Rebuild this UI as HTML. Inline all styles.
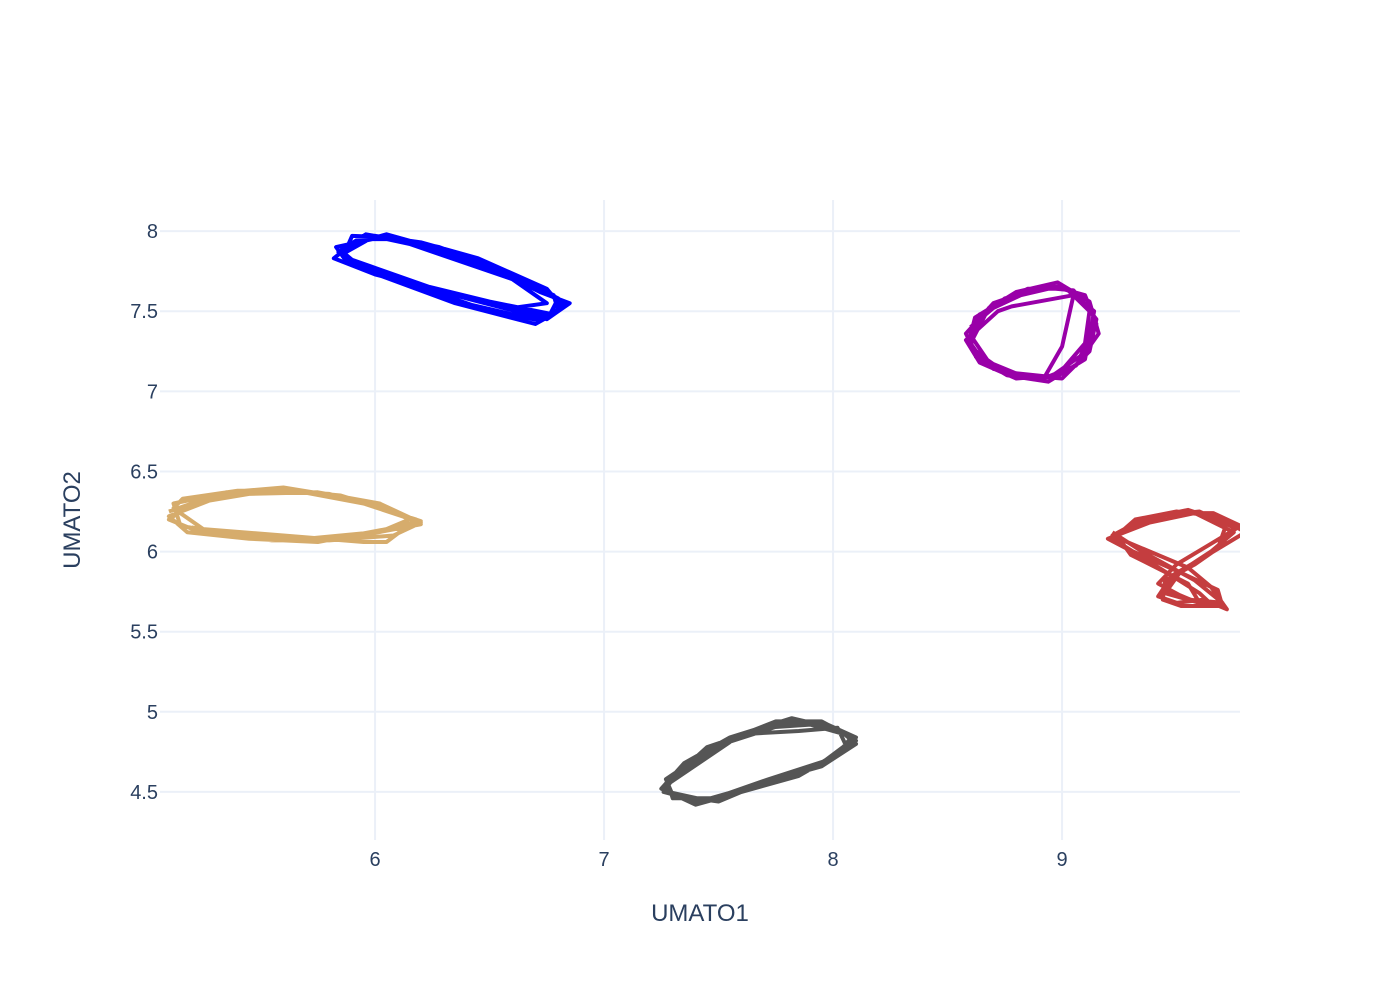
<!DOCTYPE html>
<html><head><meta charset="utf-8"><style>
body{margin:0;background:#fff;font-family:"Liberation Sans",sans-serif}
svg text{font-family:"Liberation Sans",sans-serif;fill:#2a3f5f}
</style></head><body>
<svg id="chart" width="1400" height="1000" xmlns="http://www.w3.org/2000/svg">
<defs><clipPath id="pc"><rect x="160" y="200" width="1080" height="640"/></clipPath></defs>
<g id="grid"></g>
<g id="series" clip-path="url(#pc)"></g>
<g id="ticks"></g>
<text x="700" y="921" font-size="24" text-anchor="middle">UMATO1</text>
<text transform="translate(80,520) rotate(-90)" font-size="24" text-anchor="middle">UMATO2</text>
</svg>
<script>
const xTicks=[6,7,8,9];
const yTicks=[4.5,5,5.5,6,6.5,7,7.5,8];
const yTickLabels=["4.5","5","5.5","6","6.5","7","7.5","8"];
const blueX=[5.85,6.0,6.2,6.45,6.75,6.82,6.75,6.4,6.0,5.82,5.9,6.05,6.25,6.5,6.78,6.8,6.7,6.35,5.95,5.85,5.95,6.1,6.3,6.55,6.72,6.85,6.78,6.5,6.1,5.88,5.83,6.02,6.15,6.6,6.75,6.6,6.3,5.98,5.86,5.9,6.08,6.28,6.55,6.8,6.76,6.45,6.15,5.92,5.84,5.96,6.12,6.4,6.7,6.83,6.72,6.42,6.05,5.87];
const blueY=[7.85,7.97,7.93,7.83,7.64,7.52,7.45,7.58,7.73,7.83,7.92,7.98,7.9,7.78,7.6,7.5,7.42,7.55,7.76,7.88,7.95,7.95,7.88,7.74,7.62,7.55,7.48,7.56,7.7,7.8,7.9,7.96,7.92,7.7,7.55,7.52,7.62,7.78,7.84,7.97,7.96,7.9,7.76,7.58,7.47,7.57,7.68,7.8,7.87,7.98,7.94,7.82,7.66,7.54,7.44,7.54,7.72,7.81];
const purpleX=[8.6,8.75,8.95,9.1,9.15,9.08,8.95,8.75,8.62,8.58,8.7,8.9,9.05,9.15,9.12,9.0,8.82,8.65,8.6,8.68,8.85,9.02,9.12,9.1,8.98,8.8,8.64,8.58,8.72,8.78,9.05,9.0,8.92,8.7,8.6,8.62,8.8,8.98,9.12,9.16,9.06,8.9,8.72,8.6,8.64,8.82,9.0,9.14,9.1,8.94,8.76,8.62];
const purpleY=[7.4,7.58,7.66,7.6,7.42,7.22,7.09,7.12,7.25,7.36,7.55,7.65,7.63,7.45,7.25,7.08,7.1,7.2,7.3,7.52,7.64,7.64,7.5,7.3,7.1,7.08,7.18,7.32,7.5,7.53,7.6,7.28,7.08,7.14,7.35,7.46,7.62,7.68,7.56,7.36,7.16,7.07,7.14,7.28,7.48,7.6,7.66,7.5,7.2,7.06,7.1,7.22];
const tanX=[5.1,5.3,5.55,5.85,6.05,6.2,6.0,5.7,5.4,5.15,5.12,5.35,5.6,5.9,6.1,6.15,6.05,5.75,5.45,5.18,5.1,5.28,5.5,5.8,6.0,6.18,6.05,5.95,5.6,5.25,5.12,5.16,5.4,5.65,5.95,6.12,6.2,5.9,5.55,5.22,5.1,5.2,5.45,5.75,6.02,6.2,6.08,5.8,5.5,5.2];
const tanY=[6.25,6.35,6.39,6.35,6.26,6.19,6.12,6.08,6.1,6.16,6.3,6.37,6.4,6.33,6.24,6.2,6.14,6.06,6.08,6.12,6.22,6.32,6.38,6.36,6.28,6.2,6.06,6.06,6.1,6.14,6.27,6.33,6.38,6.38,6.3,6.22,6.17,6.09,6.07,6.13,6.2,6.3,6.36,6.37,6.3,6.18,6.1,6.07,6.09,6.15];
const redX=[9.25,9.4,9.6,9.75,9.7,9.6,9.48,9.42,9.5,9.62,9.72,9.65,9.55,9.3,9.22,9.35,9.55,9.72,9.68,9.58,9.45,9.44,9.52,9.7,9.68,9.5,9.28,9.2,9.38,9.58,9.75,9.65,9.5,9.45,9.6,9.55,9.3,9.24,9.32,9.5,9.68,9.8,9.66,9.52,9.46,9.56,9.66,9.6,9.4,9.22,9.3,9.48,9.66,9.78,9.64,9.5,9.42,9.55,9.7,9.58,9.35,9.22];
const redY=[6.12,6.22,6.25,6.15,6.05,5.95,5.85,5.72,5.68,5.7,5.64,5.78,5.9,6.05,6.1,6.2,6.26,6.18,6.02,5.92,5.82,5.7,5.66,5.66,5.76,5.88,6.02,6.08,6.18,6.24,6.12,6.0,5.86,5.74,5.68,5.8,5.98,6.1,6.2,6.25,6.22,6.12,6.0,5.88,5.76,5.7,5.66,5.74,5.92,6.08,6.16,6.24,6.24,6.16,6.04,5.92,5.8,5.7,5.68,5.82,6.0,6.12];
const grayX=[7.25,7.45,7.7,7.9,8.05,8.1,7.95,7.7,7.5,7.3,7.27,7.5,7.75,7.95,8.08,8.02,7.85,7.6,7.4,7.25,7.35,7.55,7.82,8.0,8.1,7.98,7.72,7.48,7.3,7.28,7.6,7.85,8.02,8.06,7.9,7.62,7.42,7.26,7.32,7.52,7.78,7.96,8.1,7.95,7.66,7.44,7.28];
const grayY=[4.52,4.78,4.9,4.92,4.86,4.8,4.66,4.56,4.44,4.48,4.58,4.8,4.94,4.94,4.84,4.74,4.6,4.5,4.42,4.52,4.68,4.84,4.96,4.9,4.82,4.7,4.58,4.46,4.46,4.55,4.86,4.88,4.9,4.78,4.64,4.52,4.44,4.5,4.62,4.8,4.92,4.93,4.84,4.68,4.54,4.45,4.5];
const L=160,R=1240,T=200,B=840,x0=5.061,x1=9.777,y0=4.2,y1=8.194;
const xs=v=>L+(v-x0)/(x1-x0)*(R-L);
const ys=v=>B-(v-y0)/(y1-y0)*(B-T);
const NS="http://www.w3.org/2000/svg";
const grid=document.getElementById('grid'),tk=document.getElementById('ticks'),ser=document.getElementById('series');
function mk(t,a,p){const e=document.createElementNS(NS,t);for(const k in a)e.setAttribute(k,a[k]);p.appendChild(e);return e;}
xTicks.forEach(v=>{
 const l=mk('line',{x1:xs(v),x2:xs(v),y1:T,y2:B,stroke:'#ebf0f8','stroke-width':2},grid);
 
 
 const t=mk('text',{x:xs(v),y:866,'font-size':20,'text-anchor':'middle'},tk);
 t.textContent=String(v);
 
 
});
yTicks.forEach((v,i)=>{
 const l=mk('line',{x1:L,x2:R,y1:ys(v),y2:ys(v),stroke:'#ebf0f8','stroke-width':2},grid);
 
 
 const t=mk('text',{x:158,y:ys(v)+7,'font-size':20,'text-anchor':'end'},tk);
 t.textContent=yTickLabels[i];
 
 
});
const series=[[blueX,blueY,'#0000ff','blue-trace'],[purpleX,purpleY,'#9900a8','purple-trace'],[tanX,tanY,'#d6ac6c','tan-trace'],[redX,redY,'#c43d3f','red-trace'],[grayX,grayY,'#555555','gray-trace']];
series.forEach(s=>{
 const d=s[0].map((v,i)=>(i?'L':'M')+xs(v).toFixed(1)+','+ys(s[1][i]).toFixed(1)).join('');
 const p=mk('path',{d:d,fill:'none',stroke:s[2],'stroke-width':4,'stroke-linejoin':'round'},ser);
 
 
});
</script>
</body></html>
